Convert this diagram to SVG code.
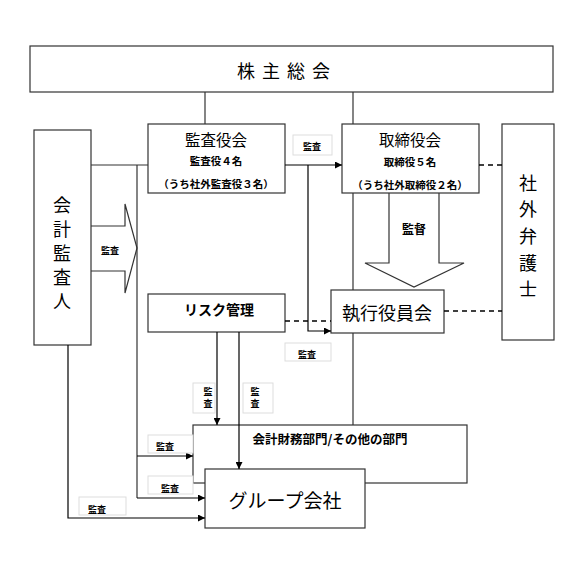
<svg xmlns="http://www.w3.org/2000/svg" width="567" height="570" viewBox="0 0 567 570">
<defs>
<marker id="ah" viewBox="0 0 10 10" refX="10" refY="5" markerWidth="7" markerHeight="7" markerUnits="userSpaceOnUse" orient="auto"><path d="M0,0 L10,5 L0,10 z" fill="#000"/></marker>
<style>
.box{fill:#fff;stroke:#333;stroke-width:1.2}
.ln{fill:none;stroke:#333;stroke-width:1.2}
.ar{fill:none;stroke:#000;stroke-width:1.2;marker-end:url(#ah)}
.da{fill:none;stroke:#000;stroke-width:1.3;stroke-dasharray:5,4}
.lb{fill:#fff;stroke:#ddd;stroke-width:1}
text{font-family:"Noto Sans CJK JP","Noto Sans CJK SC",sans-serif;fill:#000;text-anchor:middle;dominant-baseline:central}
.big{font-size:15.5px}
.sm{font-size:10.5px;font-weight:bold}
.tiny{font-size:9px;font-weight:bold}
.vt{font-size:18px}
</style>
</defs>
<rect width="567" height="570" fill="#fff"/>
<g id="kabunushi">
<rect class="box" x="30" y="46" width="523" height="46"/>
<text x="287" y="70" font-size="18" letter-spacing="7">株主総会</text>
</g>
<g id="kansayakukai">
<rect class="box" x="148" y="124" width="137" height="69"/>
<text x="216" y="139" class="big">監査役会</text>
<text x="216" y="160" class="sm">監査役４名</text>
<text x="216" y="183" class="sm">（うち社外監査役３名）</text>
</g>
<g id="torishimariyakukai">
<rect class="box" x="342" y="124" width="137" height="69"/>
<text x="410" y="139" class="big">取締役会</text>
<text x="410" y="161" class="sm">取締役５名</text>
<text x="410" y="184" class="sm">（うち社外取締役２名）</text>
</g>
<g id="kaikeikansanin">
<rect class="box" x="34" y="130" width="57" height="215"/>
<text x="62" y="204" class="vt">会</text>
<text x="62" y="228" class="vt">計</text>
<text x="62" y="252" class="vt">監</text>
<text x="62" y="276" class="vt">査</text>
<text x="62" y="300" class="vt">人</text>
</g>
<g id="shagaibengoshi">
<rect class="box" x="502" y="124" width="52" height="216"/>
<text x="528" y="182" class="vt">社</text>
<text x="528" y="208" class="vt">外</text>
<text x="528" y="235" class="vt">弁</text>
<text x="528" y="262" class="vt">護</text>
<text x="528" y="288" class="vt">士</text>
</g>
<g id="shikkouyakuinkai">
<rect class="box" x="331" y="290" width="113" height="43"/>
<text x="387" y="312" font-size="18">執行役員会</text>
</g>
<g id="risk">
<rect class="box" x="148" y="294" width="137" height="38"/>
<text x="219" y="309" font-size="14" font-weight="bold">リスク管理</text>
</g>
<g id="bumon">
<rect class="box" x="193" y="425" width="274" height="58"/>
<text x="330" y="438" font-size="12.5" font-weight="bold">会計財務部門/その他の部門</text>
</g>
<g id="group">
<rect class="box" x="205" y="469" width="160" height="59"/>
<text x="285" y="499" font-size="19">グループ会社</text>
</g>
<g id="connectors">
<line class="ln" x1="205" y1="92" x2="205" y2="124"/>
<line class="ln" x1="353" y1="92" x2="353" y2="124"/>
<line class="ln" x1="353" y1="193" x2="353" y2="290"/>
<line class="ln" x1="353" y1="333" x2="353" y2="425"/>
<line class="ln" x1="91" y1="165" x2="148" y2="165"/>
<polyline class="ln" points="137,165 137,498"/>
<line class="ar" x1="137" y1="456" x2="193" y2="456"/>
<line class="ar" x1="137" y1="498" x2="205" y2="498"/>
<polyline class="ar" points="68,345 68,518 205,518"/>
<line class="ar" x1="285" y1="165" x2="342" y2="165"/>
<polyline class="ar" points="308,165 308,331 331,331"/>
<line class="da" x1="479" y1="165" x2="502" y2="165"/>
<line class="da" x1="444" y1="311" x2="502" y2="311"/>
<line class="da" x1="285" y1="321" x2="331" y2="321"/>
<line class="ar" x1="217" y1="332" x2="217" y2="425"/>
<line class="ar" x1="239" y1="332" x2="239" y2="469"/>
<path class="ln" d="M91,226 L125,226 L125,204 L137,248 L125,293 L125,271 L91,271" fill="#fff"/>
<path class="ln" d="M389,193 L389,263 L365,263 L414,287 L464,263 L439,263 L439,193" fill="#fff"/>
<text x="110" y="250" class="tiny">監査</text>
<text x="414" y="228" font-size="12" font-weight="bold">監督</text>
<rect class="lb" x="293" y="135" width="39" height="20"/>
<text x="312" y="146" class="tiny">監査</text>
<rect class="lb" x="285" y="343" width="46" height="18"/>
<text x="307" y="354" class="tiny">監査</text>
<rect class="lb" x="193" y="383" width="22" height="30"/>
<text x="208" y="391" class="tiny">監</text>
<text x="208" y="403" class="tiny">査</text>
<rect class="lb" x="243" y="383" width="30" height="30"/>
<text x="255" y="391" class="tiny">監</text>
<text x="255" y="403" class="tiny">査</text>
<rect class="lb" x="148" y="435" width="45" height="18"/>
<text x="165" y="446" class="tiny">監査</text>
<rect class="lb" x="148" y="476" width="45" height="18"/>
<text x="170" y="488" class="tiny">監査</text>
<rect class="lb" x="79" y="497" width="47" height="18"/>
<text x="97" y="509" class="tiny">監査</text>
</g>
</svg>
